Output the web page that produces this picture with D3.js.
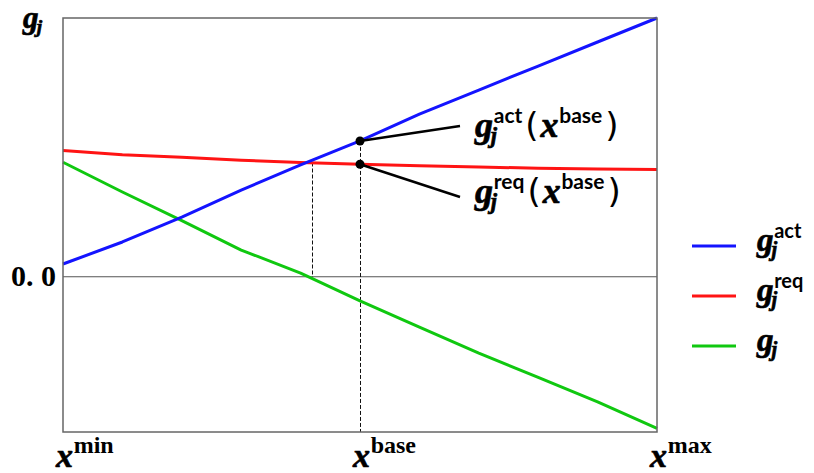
<!DOCTYPE html>
<html>
<head>
<meta charset="utf-8">
<script src="https://cdn.jsdelivr.net/npm/d3@7"></script>
<style>
  html, body { margin: 0; padding: 0; background: #fff; }
  svg { display: block; }
</style>
</head>
<body>
<svg id="chart" width="814" height="473"></svg>
<script>
// Design-variable position (normalised 0..1 between x^min and x^max)
const xs = [0, 0.1, 0.2, 0.3, 0.4, 0.5, 0.6, 0.7, 0.8, 0.9, 1.0];
// Actual, required and net constraint values
const gAct = [0.123, 0.336, 0.577, 0.838, 1.080, 1.312, 1.572, 1.804, 2.036, 2.268, 2.500];
const gReq = [1.220, 1.179, 1.155, 1.126, 1.104, 1.087, 1.072, 1.060, 1.049, 1.041, 1.036];
const gNet = [1.106, 0.819, 0.543, 0.258, 0.036, -0.234, -0.486, -0.737, -0.973, -1.210, -1.464];
// Special abscissae
const xBase = 0.5;
const xCross = 0.42;
const crossValue = 1.104;
const actAtBase = 1.312;
const reqAtBase = 1.087;
// Axis tick labels
const xTicks = [{v: 0, sup: "min"}, {v: 0.5, sup: "base"}, {v: 1, sup: "max"}];
const yTicks = [0];

const svg = d3.select("#chart");
const L = 63, R = 657, T = 18, B = 432;
const x = d3.scaleLinear().domain([0, 1]).range([L, R]);
const y = d3.scaleLinear().domain([-1.5, 2.5]).range([B, T]);

const mathFont = "'Liberation Serif', 'Times New Roman', serif";
const supSans = "Lato, 'Open Sans', sans-serif";

// zero line
svg.append("line")
  .attr("x1", x(0)).attr("x2", x(1))
  .attr("y1", y(0)).attr("y2", y(0))
  .attr("stroke", "#555").attr("stroke-width", 1.2);

// dashed guides
function guide(xv, y1, y2) {
  const px = Math.round(x(xv)) + 0.5;
  svg.append("line")
    .attr("x1", px).attr("x2", px)
    .attr("y1", y1).attr("y2", y2)
    .attr("stroke", "#111").attr("stroke-width", 1)
    .attr("stroke-dasharray", "4,2");
}
guide(xCross, y(crossValue), y(0));
guide(xBase, y(actAtBase), B);

// series
const series = [
  {vals: gReq, color: "#ff1414"},
  {vals: gNet, color: "#10c810"},
  {vals: gAct, color: "#1414ff"}
];
const line = d3.line().x((d, i) => x(xs[i])).y(d => y(d));
series.forEach(s => {
  svg.append("path").datum(s.vals)
    .attr("d", line)
    .attr("fill", "none")
    .attr("stroke", s.color)
    .attr("stroke-width", 3)
    .attr("stroke-linejoin", "round");
});

// frame
svg.append("rect")
  .attr("x", L).attr("y", T).attr("width", R - L).attr("height", B - T)
  .attr("fill", "none").attr("stroke", "#666").attr("stroke-width", 1.5);

// text helper; math italics get a thin outline for a heavier stroke
function txt(px, py, s, font, size, italic, weight) {
  const t = svg.append("text")
    .attr("x", px).attr("y", py)
    .attr("font-family", font).attr("font-size", size)
    .attr("font-weight", weight || "bold")
    .attr("font-style", italic ? "italic" : "normal")
    .attr("fill", "#000")
    .text(s);
  if (italic) t.attr("stroke", "#000").attr("stroke-width", 0.7);
  return t.node().getComputedTextLength();
}

// g with subscript j and optional superscript; returns end x
function gSym(px, base, size, sup, supFont, supSize) {
  const w = txt(px, base, "g", mathFont, size, true);
  const wj = txt(px + w - size * 0.06, base + size * 0.16, "j", mathFont, size * 0.62, true);
  let ws = 0;
  if (sup) ws = txt(px + w + size * 0.02, base - size * 0.4, sup, supFont, supSize);
  return px + w + Math.max(wj - size * 0.06, ws + size * 0.02);
}

// x with superscript; returns end x
function xSym(px, base, size, sup, supFont, supSize) {
  const w = txt(px, base, "x", mathFont, size, true);
  const ws = txt(px + w + size * 0.02, base - size * 0.4, sup, supFont, supSize);
  return px + w + size * 0.02 + ws;
}

// y tick label
yTicks.forEach(v => {
  svg.append("text")
    .attr("x", 56).attr("y", y(v) + 9)
    .attr("text-anchor", "end")
    .attr("font-family", mathFont)
    .attr("font-weight", "bold").attr("font-size", 30)
    .text(d3.format(".1f")(v).replace(".", ". "));
});

// y axis title
gSym(23, 28, 31, null);

// x tick labels
xTicks.forEach(tk => {
  xSym(x(tk.v) - 7, 467, 34, tk.sup, mathFont, 24);
});

// annotation markers and leader lines
const ann = [
  {v: actAtBase, ex: 460, ey: 126, sup: "act", base: 137},
  {v: reqAtBase, ex: 460, ey: 197, sup: "req", base: 203}
];
ann.forEach(a => {
  svg.append("line")
    .attr("x1", x(xBase)).attr("y1", y(a.v))
    .attr("x2", a.ex).attr("y2", a.ey)
    .attr("stroke", "#000").attr("stroke-width", 2.5);
  svg.append("circle")
    .attr("cx", x(xBase)).attr("cy", y(a.v)).attr("r", 4.5).attr("fill", "#000");
  let cx = gSym(475, a.base, 36, a.sup, supSans, 21);
  cx += 3;
  cx += txt(cx, a.base, "(", "'DejaVu Sans', sans-serif", 34, false, "normal");
  cx += 2;
  cx = xSym(cx, a.base, 36, "base", supSans, 21);
  cx += 3;
  txt(cx, a.base, ")", "'DejaVu Sans', sans-serif", 34, false, "normal");
});

// legend
const legend = [
  {color: "#1414ff", sup: "act"},
  {color: "#ff1414", sup: "req"},
  {color: "#10c810", sup: null}
];
legend.forEach((d, i) => {
  const ly = 246 + i * 50;
  svg.append("line")
    .attr("x1", 692).attr("x2", 736).attr("y1", ly).attr("y2", ly)
    .attr("stroke", d.color).attr("stroke-width", 3);
  gSym(757, ly + 5, 33, d.sup, supSans, 20);
});
</script>
</body>
</html>
